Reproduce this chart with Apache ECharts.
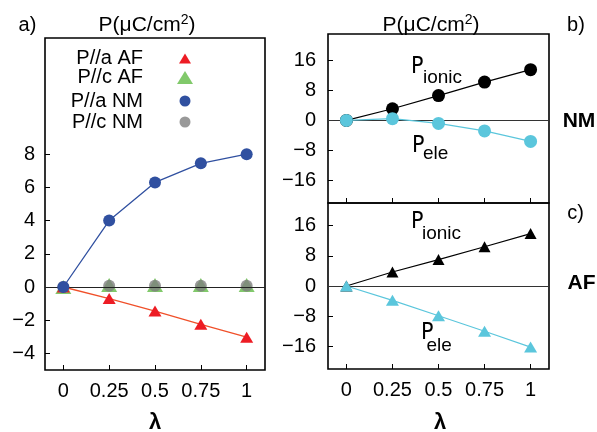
<!DOCTYPE html>
<html><head><meta charset="utf-8">
<script src="https://cdn.jsdelivr.net/npm/echarts@6/dist/echarts.min.js"></script>
<style>html,body{margin:0;padding:0;background:#fff}#c{width:597px;height:432px}</style>
</head><body><div id="c"></div>
<script>
const xVals = [0, 0.25, 0.5, 0.75, 1];
const paAF = [0, -0.7, -1.45, -2.25, -3.02];
const pcAF = [0, 0.12, 0.12, 0.12, 0.12];
const paNM = [0, 4.0, 6.3, 7.45, 8.0];
const pcNM = [0, 0.08, 0.08, 0.08, 0.08];
const nmIonic = [0, 3.1, 6.6, 10.2, 13.5];
const nmEle = [0, 0.45, -0.8, -2.8, -5.6];
const afIonic = [0, 3.7, 7.0, 10.4, 13.9];
const afEle = [0, -3.8, -7.9, -12.0, -16.2];
const xTicks = [0, 0.25, 0.5, 0.75, 1];
const yTicksA = [-4, -2, 0, 2, 4, 6, 8];
const yTicksBC = [-16, -8, 0, 8, 16];
const seriesNamesA = ['P//a AF', 'P//c AF', 'P//a NM', 'P//c NM'];

const FONT = 'Liberation Sans, Arial, sans-serif';
const NARROW = '"Liberation Sans Narrow", "DejaVu Sans Condensed", "Liberation Sans", sans-serif';
const pair = ys => xVals.map((x, i) => [x, ys[i]]);
const fmt = v => v < 0 ? '\u2212' + Math.abs(v) : String(v);

const chart = echarts.init(document.getElementById('c'));
const grids = [
  {left: 45, top: 38, width: 220, height: 332},
  {left: 328, top: 34, width: 221, height: 169},
  {left: 328, top: 203, width: 221, height: 166}
].map(g => Object.assign({show: true, borderColor: '#000', borderWidth: 1.6, backgroundColor: 'transparent'}, g));

function xAxis(i, labels) {
  return {
    type: 'value', gridIndex: i, min: -0.1, max: 1.1,
    axisLine: {show: false, onZero: false}, splitLine: {show: false},
    axisTick: {show: true, inside: true, length: 5, customValues: xTicks, lineStyle: {color: '#000'}},
    axisLabel: {show: labels, customValues: xTicks, formatter: fmt, fontSize: 20, fontFamily: FONT, color: '#000', margin: 11}
  };
}
function yAxis(i, min, max, ticks, margin) {
  return {
    type: 'value', gridIndex: i, min: min, max: max,
    axisLine: {show: false, onZero: false}, splitLine: {show: false},
    axisTick: {show: true, inside: true, length: 5, customValues: ticks, lineStyle: {color: '#000'}},
    axisLabel: {customValues: ticks, formatter: fmt, fontSize: 20, fontFamily: FONT, color: '#000', margin: margin}
  };
}
const zeroLine = (color) => ({silent: true, symbol: 'none', label: {show: false}, lineStyle: {color: color, width: 1.2, type: 'solid'}, data: [{yAxis: 0}]});

const series = [
  {name: seriesNamesA[1], type: 'scatter', xAxisIndex: 0, yAxisIndex: 0, data: pair(pcAF), symbol: 'triangle', symbolSize: [16, 14], itemStyle: {color: '#62bb46'}, markLine: zeroLine('#222'), z: 3},
  {name: seriesNamesA[3], type: 'scatter', xAxisIndex: 0, yAxisIndex: 0, data: pair(pcNM), symbol: 'circle', symbolSize: 12, itemStyle: {color: '#808080'}, z: 4},
  {name: seriesNamesA[0], type: 'line', xAxisIndex: 0, yAxisIndex: 0, data: pair(paAF), symbol: 'triangle', symbolSize: [13, 11], showSymbol: true, itemStyle: {color: '#ed1c24'}, lineStyle: {color: '#f0502a', width: 1.3}, z: 5},
  {name: seriesNamesA[2], type: 'line', xAxisIndex: 0, yAxisIndex: 0, data: pair(paNM), symbol: 'circle', symbolSize: 12, itemStyle: {color: '#3050a0'}, lineStyle: {color: '#3050a0', width: 1.3}, z: 5},
  {name: 'NM ionic', type: 'line', xAxisIndex: 1, yAxisIndex: 1, data: pair(nmIonic), symbol: 'circle', symbolSize: 13, itemStyle: {color: '#000'}, lineStyle: {color: '#000', width: 1.2}, markLine: zeroLine('#333'), z: 5},
  {name: 'NM ele', type: 'line', xAxisIndex: 1, yAxisIndex: 1, data: pair(nmEle), symbol: 'circle', symbolSize: 13, itemStyle: {color: '#5bc6dc'}, lineStyle: {color: '#5bc6dc', width: 1.2}, z: 5},
  {name: 'AF ionic', type: 'line', xAxisIndex: 2, yAxisIndex: 2, data: pair(afIonic), symbol: 'triangle', symbolSize: [12, 11], itemStyle: {color: '#000'}, lineStyle: {color: '#000', width: 1.2}, markLine: zeroLine('#333'), z: 5},
  {name: 'AF ele', type: 'line', xAxisIndex: 2, yAxisIndex: 2, data: pair(afEle), symbol: 'triangle', symbolSize: [13, 11], itemStyle: {color: '#5bc6dc'}, lineStyle: {color: '#5bc6dc', width: 1.2}, z: 5}
];

function legend(name, icon, w, h, cy) {
  return {
    data: [name], right: 597 - (185 + w / 2) - 5, top: cy - h / 2 - 5, orient: 'vertical', align: 'right',
    icon: icon, itemWidth: w, itemHeight: h, selectedMode: false,
    textStyle: {fontSize: 20, fontFamily: FONT, color: '#000', padding: [0, 37 - w / 2, 0, 0]}
  };
}

const T = (text, x, y, size, extra) => ({type: 'text', x: x, y: y, z: 10, style: Object.assign({text: text, fontSize: size, fontFamily: FONT, fill: '#000', align: 'center', verticalAlign: 'middle'}, extra || {})});
const titleRich = {
  n: {fontSize: 21, fontFamily: FONT, color: '#000'},
  sup: {fontSize: 14, fontFamily: FONT, color: '#000', verticalAlign: 'top', padding: [0, 0, 10, 0]}
};
const P = (x, cy) => ({type: 'text', x: x, y: cy, z: 10, style: {text: 'P', fontSize: 23, fontFamily: NARROW, fill: '#000', align: 'left', verticalAlign: 'middle'}});
const S = (text, x, cy) => ({type: 'text', x: x, y: cy, z: 10, style: {text: text, fontSize: 19, fontFamily: FONT, fill: '#000', align: 'left', verticalAlign: 'middle'}});

chart.setOption({
  animation: false,
  grid: grids,
  xAxis: [xAxis(0, true), xAxis(1, false), xAxis(2, true)],
  yAxis: [yAxis(0, -5, 15, yTicksA, 10), yAxis(1, -22, 23, yTicksBC, 12), yAxis(2, -22, 22, yTicksBC, 12)],
  legend: [
    legend(seriesNamesA[0], 'triangle', 12, 10, 53.5),
    legend(seriesNamesA[1], 'triangle', 16, 13, 74),
    legend(seriesNamesA[2], 'circle', 11, 11, 96.5),
    legend(seriesNamesA[3], 'circle', 11, 11, 117.5)
  ],
  graphic: [
    T('a)', 27.5, 25, 20),
    {type: 'text', x: 147, y: 25, z: 10, style: {text: '{n|P(\u03bcC/cm}{sup|2}{n|)}', rich: titleRich, align: 'center', verticalAlign: 'middle'}},
    {type: 'text', x: 431, y: 25, z: 10, style: {text: '{n|P(\u03bcC/cm}{sup|2}{n|)}', rich: titleRich, align: 'center', verticalAlign: 'middle'}},
    T('b)', 576, 25, 20),
    T('c)', 575.5, 213, 20),
    T('NM', 579, 121, 21, {fontWeight: 'bold'}),
    T('AF', 581.5, 283, 21, {fontWeight: 'bold'}),
    T('\u03bb', 155, 423, 22, {fontWeight: 'bold'}),
    T('\u03bb', 440, 422.5, 22, {fontWeight: 'bold'}),
    P(411, 67), S('ionic', 423, 78),
    P(412, 146), S('ele', 423, 154),
    P(411, 222.5), S('ionic', 422, 234),
    P(421, 333.5), S('ele', 426.5, 345.5)
  ],
  series: series
});
</script></body></html>
